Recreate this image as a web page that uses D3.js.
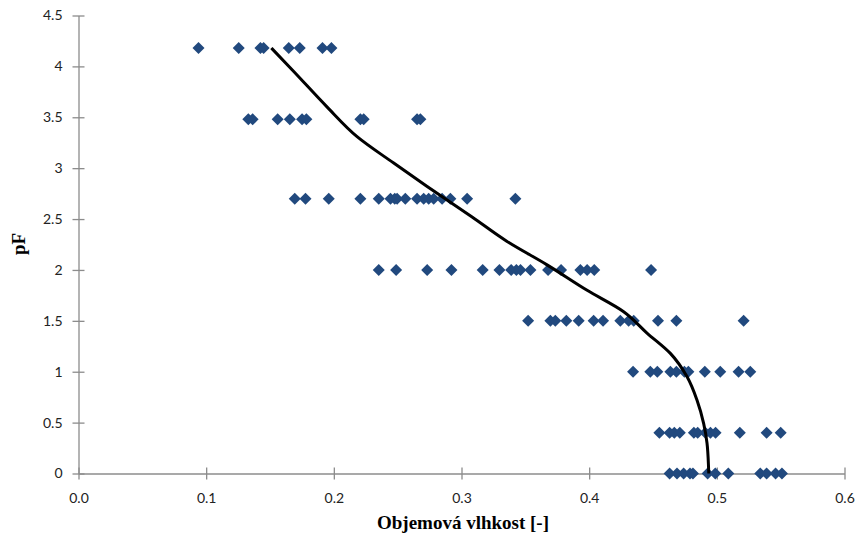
<!DOCTYPE html>
<html>
<head>
<meta charset="utf-8">
<title>pF</title>
<script src="https://cdn.jsdelivr.net/npm/d3@7"></script>
<style>
  body { margin: 0; background: #fff; }
  .tick text { font-family: Lato, "Open Sans", sans-serif; font-size: 14px; fill: #222; }
</style>
</head>
<body>
<script>

// measured points, one row per pF level
var pfLevels = [4.18, 3.48, 2.7, 2.0, 1.5, 1.0, 0.4, 0];
var theta418 = [0.094, 0.1255, 0.1425, 0.145, 0.1647, 0.1733, 0.1911, 0.1981];
var theta348 = [0.133, 0.1364, 0.156, 0.1655, 0.1751, 0.1785, 0.2208, 0.2234, 0.2652, 0.2678];
var theta27  = [0.1694, 0.1778, 0.196, 0.2208, 0.2352, 0.2444, 0.2477, 0.2496, 0.256, 0.2652,
                0.2704, 0.2743, 0.2782, 0.2848, 0.2913, 0.3044, 0.3422];
var theta20  = [0.2352, 0.2488, 0.2731, 0.2921, 0.3166, 0.3297, 0.3389, 0.343, 0.3462, 0.354,
                0.3678, 0.378, 0.3931, 0.3984, 0.404, 0.4485];
var theta15  = [0.3522, 0.3696, 0.3735, 0.3821, 0.3918, 0.4035, 0.4109, 0.4244, 0.4309, 0.4349,
                0.4539, 0.4683, 0.521];
var theta10  = [0.4344, 0.4479, 0.4534, 0.4636, 0.4683, 0.4746, 0.4777, 0.4906, 0.5027, 0.517, 0.5262];
var theta04  = [0.455, 0.463, 0.4667, 0.471, 0.482, 0.485, 0.491, 0.495, 0.499, 0.518, 0.539, 0.55];
var theta00  = [0.463, 0.4688, 0.474, 0.479, 0.4813, 0.4928, 0.4988, 0.509, 0.534, 0.539, 0.546, 0.551];
var thetaRows = [theta418, theta348, theta27, theta20, theta15, theta10, theta04, theta00];

// fitted retention curve
var fitTheta = [0.1511, 0.1686, 0.1948, 0.2182, 0.2469, 0.2731, 0.3083, 0.3357, 0.367, 0.3984,
                0.427, 0.4453, 0.4636, 0.4767, 0.4845, 0.4897, 0.4923, 0.4936, 0.4937];
var fitPF    = [4.18, 3.95, 3.6, 3.31, 3.05, 2.82, 2.52, 2.28, 2.05, 1.8,
                1.59, 1.38, 1.18, 0.95, 0.72, 0.49, 0.3, 0.03, 0];

var xTicks = [0, 0.1, 0.2, 0.3, 0.4, 0.5, 0.6];
var yTicks = [0, 0.5, 1, 1.5, 2, 2.5, 3, 3.5, 4, 4.5];

var width = 857, height = 540;

var svg = d3.select('body').append('svg')
  .attr('width', width)
  .attr('height', height);

var x = d3.scaleLinear().domain([0, 0.6]).range([78.5, 844.5]);
var y = d3.scaleLinear().domain([0, 4.5]).range([473.5, 15.5]);

var points = [];
thetaRows.forEach(function(row, i) {
  row.forEach(function(t) { points.push({x: t, y: pfLevels[i]}); });
});

// axes
var xAxis = svg.append('g')
  .attr('transform', 'translate(0,' + y(0) + ')')
  .call(d3.axisBottom(x).tickValues(xTicks).tickFormat(d3.format('.1f')).tickSizeInner(6).tickSizeOuter(0).tickPadding(14));
xAxis.selectAll('.tick line').attr('y1', -6);

var yAxis = svg.append('g')
  .attr('transform', 'translate(' + x(0) + ',0)')
  .call(d3.axisLeft(y).tickValues(yTicks).tickFormat(d3.format('')).tickSizeInner(6).tickSizeOuter(0).tickPadding(10));
yAxis.selectAll('.tick line').attr('x1', 6);

svg.selectAll('.domain, .tick line').attr('stroke', '#8c8c8c').attr('stroke-width', 1.3);

// markers
svg.append('g').selectAll('path')
  .data(points)
  .enter()
  .append('path')
  .attr('d', 'M0,-6L6,0L0,6L-6,0Z')
  .attr('transform', function(d) { return 'translate(' + x(d.x) + ',' + y(d.y) + ')'; })
  .attr('fill', '#21497e');

// curve
var line = d3.line()
  .x(function(d) { return x(d[0]); })
  .y(function(d) { return y(d[1]); })
  .curve(d3.curveMonotoneY);

svg.append('path')
  .datum(d3.zip(fitTheta, fitPF))
  .attr('d', line)
  .attr('fill', 'none')
  .attr('stroke', '#000')
  .attr('stroke-width', 3);

// titles
svg.append('text')
  .attr('x', 463).attr('y', 529)
  .attr('text-anchor', 'middle')
  .style('font-family', '"Liberation Serif", serif')
  .style('font-weight', 'bold')
  .style('font-size', '19px')
  .text('Objemová vlhkost [-]');

svg.append('text')
  .attr('transform', 'translate(25,244) rotate(-90)')
  .attr('text-anchor', 'middle')
  .style('font-family', '"Liberation Serif", serif')
  .style('font-weight', 'bold')
  .style('font-size', '19px')
  .text('pF');

</script>
</body>
</html>
